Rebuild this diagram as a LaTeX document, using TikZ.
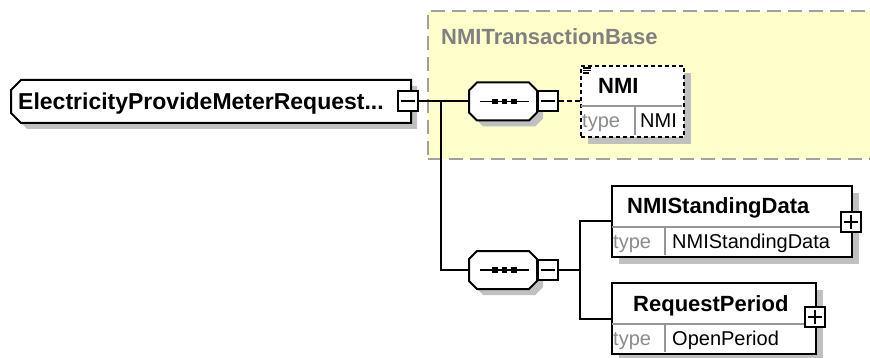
\documentclass[tikz,border=0pt]{standalone}
\usepackage{fontspec}
\setmainfont{Liberation Sans}
\usetikzlibrary{calc,shadows}
\definecolor{ylw}{RGB}{255,255,204}
\definecolor{shd}{RGB}{192,192,192}
\definecolor{grpline}{RGB}{160,160,160}
\definecolor{lbl}{RGB}{128,128,128}
\definecolor{typec}{RGB}{140,140,140}
\definecolor{divc}{RGB}{150,150,150}
\begin{document}
\begin{tikzpicture}[x=1pt,y=-1pt,
  conn/.style={line width=2pt},
  bfnt/.style={font=\bfseries\fontsize{22}{24}\selectfont, inner sep=0pt},
  rfnt/.style={font=\fontsize{20}{22}\selectfont, inner sep=0pt},
  ebox/.style={draw, line width=2pt, fill=white, inner sep=0pt, anchor=north west,
    drop shadow={shadow xshift=7pt, shadow yshift=-7pt, fill=shd, opacity=1}},
  divl/.style={draw=divc, line width=1.2pt},
  hit/.style={draw=none, inner sep=0pt},
  sbox/.style={draw=black, line width=2pt, fill=white, minimum width=20pt, minimum height=20pt, inner sep=0pt},
  sign/.style={draw=black, line width=2pt},
  seqpic/.pic={
    \fill[shd] (-20,-13) -- (32,-13) -- (40,-5) -- (40,17) -- (32,25) -- (-20,25) -- (-28,17) -- (-28,-5) -- cycle;
    \draw[line width=2pt, fill=white] (-26,-19) -- (26,-19) -- (34,-11) -- (34,11) -- (26,19) -- (-26,19) -- (-34,11) -- (-34,-11) -- cycle;
    \draw[line width=1.8pt] (-23,0) -- (26,0);
    \fill (-8,0) +(-2.9,-2.9) rectangle +(2.9,2.9);
    \fill (1.5,0) +(-2.9,-2.9) rectangle +(2.9,2.9);
    \fill (11,0) +(-2.9,-2.9) rectangle +(2.9,2.9);
  }
]
\useasboundingbox (0,0) rectangle (870,358);
\clip (0,0) rectangle (870,358);
\fill[white] (0,0) rectangle (870,358);

% group box
\node[draw=grpline, fill=ylw, line width=2pt, dash pattern=on 14pt off 7pt,
      minimum width=470, minimum height=148, anchor=north west, inner sep=0pt] (grp) at (427,10) {};
\node[bfnt, text=lbl, anchor=base west] (grplbl) at (441,44.5) {NMITransactionBase};

% root element
\fill[shd] (417,86) -- (27,86) -- (17,96) -- (17,119) -- (27,129) -- (417,129) -- cycle;
\draw[line width=2pt, fill=white] (411,80) -- (21,80) -- (11,90) -- (11,113) -- (21,123) -- (411,123) -- cycle;
\node[hit, minimum width=400, minimum height=43] (root) at (211,101.5) {};
\node[bfnt, font=\bfseries\fontsize{23}{25}\selectfont, anchor=base west] (rootlbl) at (18,109.5) {ElectricityProvideMeterRequest...};
\node[sbox] (rootm) at (407.5,101.5) {};
\draw[sign] ([xshift=4pt]rootm.west) -- ([xshift=-4pt]rootm.east);

% sequences
\pic at (503,101.5) {seqpic};
\node[hit, minimum width=68, minimum height=38] (s1) at (503,101.5) {};
\node[sbox] (s1m) at (548,101.5) {};
\draw[sign] ([xshift=4pt]s1m.west) -- ([xshift=-4pt]s1m.east);
\pic at (503,270) {seqpic};
\node[hit, minimum width=68, minimum height=38] (s2) at (503,270) {};
\node[sbox] (s2m) at (548,270) {};
\draw[sign] ([xshift=4pt]s2m.west) -- ([xshift=-4pt]s2m.east);

% NMI element
\node[ebox, dash pattern=on 4pt off 3pt, minimum width=103, minimum height=71] (nmi) at (580,65) {};
\draw[divl] (581,106) -- (682,106) (635,106) -- (635,135);
\draw[line width=1.2pt] (583,68) -- (591,68) (583,70.5) -- (591,70.5) (583,73) -- (589,73);
\node[bfnt, anchor=base west] (nminame) at (598,93.5) {NMI};
\node[rfnt, text=typec, anchor=base west] (nmitype) at (582,128) {type};
\node[rfnt, anchor=base west] (nmival) at (640,128) {NMI};

% NMIStandingData element
\node[ebox, minimum width=240, minimum height=71] (nsd) at (611,185) {};
\draw[divl] (612,227) -- (850,227) (665,227) -- (665,255);
\node[bfnt, anchor=base west] (nsdname) at (627,214) {NMIStandingData};
\node[rfnt, text=typec, anchor=base west] (nsdtype) at (613,248.5) {type};
\node[rfnt, anchor=base west] (nsdval) at (672,248.5) {NMIStandingData};
\node[sbox] (nsdp) at (851,222) {};
\draw[sign] ([xshift=4pt]nsdp.west) -- ([xshift=-4pt]nsdp.east) ([yshift=4pt]nsdp.south) -- ([yshift=-4pt]nsdp.north);

% RequestPeriod element
\node[ebox, minimum width=204, minimum height=71] (rp) at (611,282) {};
\draw[divl] (612,324) -- (814,324) (665,324) -- (665,352);
\node[bfnt, anchor=base west] (rpname) at (633,311) {RequestPeriod};
\node[rfnt, text=typec, anchor=base west] (rptype) at (613,345.5) {type};
\node[rfnt, anchor=base west] (rpval) at (672,345.5) {OpenPeriod};
\node[sbox] (rpp) at (814.5,317) {};
\draw[sign] ([xshift=4pt]rpp.west) -- ([xshift=-4pt]rpp.east) ([yshift=4pt]rpp.south) -- ([yshift=-4pt]rpp.north);

% connectors
\coordinate (j1) at (441,101.5);
\coordinate (j2) at (580,270);
\draw[conn] (rootm.east) -- (s1.west);
\draw[conn] (j1) |- (s2.west);
\draw[conn, dash pattern=on 5pt off 3pt] (s1m.east) -- (s1m.east -| nmi.west);
\draw[conn] (s2m.east) -- (j2);
\draw[conn] (nsd.west) -| (j2) |- (rp.west);
\end{tikzpicture}
\end{document}
